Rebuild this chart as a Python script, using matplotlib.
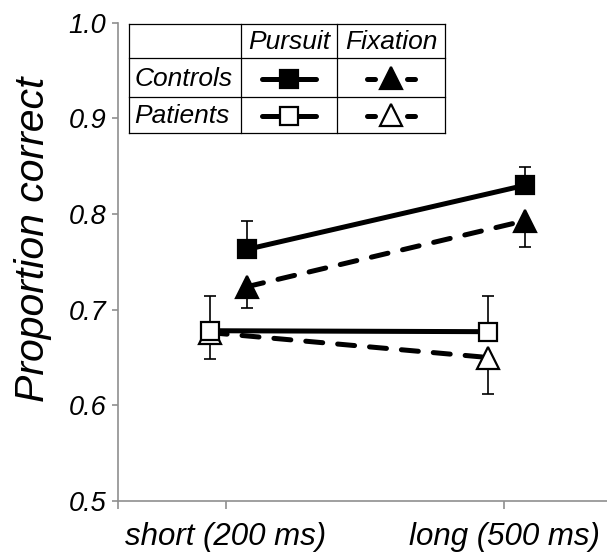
import matplotlib
matplotlib.use("Agg")
import matplotlib.pyplot as plt
import numpy as np

plt.rcParams['font.family'] = ['Liberation Sans', 'DejaVu Sans']

# ---- data ----
conditions = ["short (200 ms)", "long (500 ms)"]
yticks = [0.5, 0.6, 0.7, 0.8, 0.9, 1.0]
ytick_labels = ["0.5", "0.6", "0.7", "0.8", "0.9", "1.0"]

controls_pursuit = [0.763, 0.830]
controls_pursuit_err = [0.030, 0.019]   # upward
controls_fixation = [0.724, 0.793]
controls_fixation_err = [0.022, 0.027]  # downward

patients_pursuit = [0.678, 0.677]
patients_pursuit_err = [0.036, 0.037]   # upward
patients_fixation = [0.676, 0.650]
patients_fixation_err = [0.028, 0.038]  # downward

legend_rows = ["Controls", "Patients"]
legend_cols = ["Pursuit", "Fixation"]
ylabel = "Proportion correct"

# ---- figure ----
W, H = 607, 557
dpi = 100
fig = plt.figure(figsize=(W / dpi, H / dpi), dpi=dpi)

ax_left, ax_right = 118, 607
ax_top, ax_bot = 22.7, 501
ax = fig.add_axes([ax_left / W, 1 - ax_bot / H, (ax_right - ax_left) / W, (ax_bot - ax_top) / H])

x = np.arange(len(conditions))
off_c, off_p = 0.075, -0.057
xmin, xmax = -0.3885, 1.3705

lw = 3.6
ms_sq = 13.5
ms_tri = 16.5
cap = 4.5
elw = 1.2
spine_col = "#8f8f8f"


def series(xs, ys, errs, up, ls, marker, ms, face, z):
    yerr = [[0] * len(errs), errs] if up else [errs, [0] * len(errs)]
    ax.errorbar(xs, ys, yerr=yerr, fmt='none', ecolor='black', elinewidth=elw,
                capsize=cap, capthick=elw, zorder=z)
    line, = ax.plot(xs, ys, color='black', lw=lw, zorder=z + 0.1,
                    solid_capstyle='butt', dash_capstyle='round')
    if ls == 'dashed':
        line.set_dashes((3.4, 3.0))
    ax.plot(xs, ys, ls='none', marker=marker, ms=ms, mfc=face, mec='black',
            mew=1.6, zorder=z + 0.2)


series(x + off_p, patients_fixation, patients_fixation_err, False, 'dashed', '^', ms_tri, 'white', 2)
series(x + off_p, patients_pursuit, patients_pursuit_err, True, 'solid', 's', ms_sq, 'white', 3)
series(x + off_c, controls_fixation, controls_fixation_err, False, 'dashed', '^', ms_tri, 'black', 4)
series(x + off_c, controls_pursuit, controls_pursuit_err, True, 'solid', 's', ms_sq, 'black', 5)

ax.set_xlim(xmin, xmax)
ax.set_ylim(0.5, 1.0)
ax.set_xticks(x)
ax.set_xticklabels(conditions, fontsize=22.5, style='italic')
ax.set_xticks([xmin], minor=True)
ax.set_yticks(yticks)
ax.set_yticklabels(ytick_labels, fontsize=19.5, style='italic')
for s in ['top', 'right']:
    ax.spines[s].set_visible(False)
for s in ['left', 'bottom']:
    ax.spines[s].set_color(spine_col)
    ax.spines[s].set_linewidth(1.2)
ax.tick_params(axis='y', direction='out', length=4.5, width=1.2, color=spine_col, pad=4)
ax.tick_params(axis='x', which='major', direction='out', length=5.8, width=1.2, color=spine_col, pad=9)
ax.tick_params(axis='x', which='minor', direction='out', length=5.5, width=1.2, color=spine_col)

fig.text(33 / W, 1 - 239 / H, ylabel, rotation=90, fontsize=29.5, style='italic',
         ha='center', va='center')

# ---- legend table (overlay in pixel coords) ----
ov = fig.add_axes([0, 0, 1, 1], zorder=10)
ov.set_xlim(0, W)
ov.set_ylim(H, 0)
ov.axis('off')
ov.patch.set_alpha(0)

cx = [129.3, 240.7, 337.3, 445]
ry = [24, 58.3, 97.3, 133.3]
ov.fill_between([cx[0], cx[-1]], ry[0], ry[-1], color='white', zorder=1)
for xx in cx:
    ov.plot([xx, xx], [ry[0], ry[-1]], color='black', lw=0.9, zorder=2)
for yy in ry:
    ov.plot([cx[0], cx[-1]], [yy, yy], color='black', lw=0.9, zorder=2)

hdr_y = (ry[0] + ry[1]) / 2
for i, t in enumerate(legend_cols):
    ov.text((cx[i + 1] + cx[i + 2]) / 2, hdr_y + 1, t, fontsize=19, style='italic',
            ha='center', va='center')
row_y = [(ry[1] + ry[2]) / 2, (ry[2] + ry[3]) / 2]
for i, t in enumerate(legend_rows):
    ov.text(cx[0] + 5, row_y[i] + 1, t, fontsize=19, style='italic', ha='left', va='center')

faces = ['black', 'white']
for i in range(2):
    yy = row_y[i] + 1
    pc = (cx[1] + cx[2]) / 2
    ov.plot([pc - 27, pc + 27], [yy, yy], color='black', lw=lw, solid_capstyle='round', zorder=3)
    ov.plot([pc], [yy], marker='s', ms=ms_sq, mfc=faces[i], mec='black', mew=1.6, zorder=4)
    fc = (cx[2] + cx[3]) / 2
    ov.plot([fc - 24, fc - 16], [yy, yy], color='black', lw=lw, solid_capstyle='round', zorder=3)
    ov.plot([fc + 16, fc + 24], [yy, yy], color='black', lw=lw, solid_capstyle='round', zorder=3)
    ov.plot([fc], [yy - 1], marker='^', ms=ms_tri, mfc=faces[i], mec='black', mew=1.6, zorder=4)

fig.savefig("out.png", dpi=dpi)
